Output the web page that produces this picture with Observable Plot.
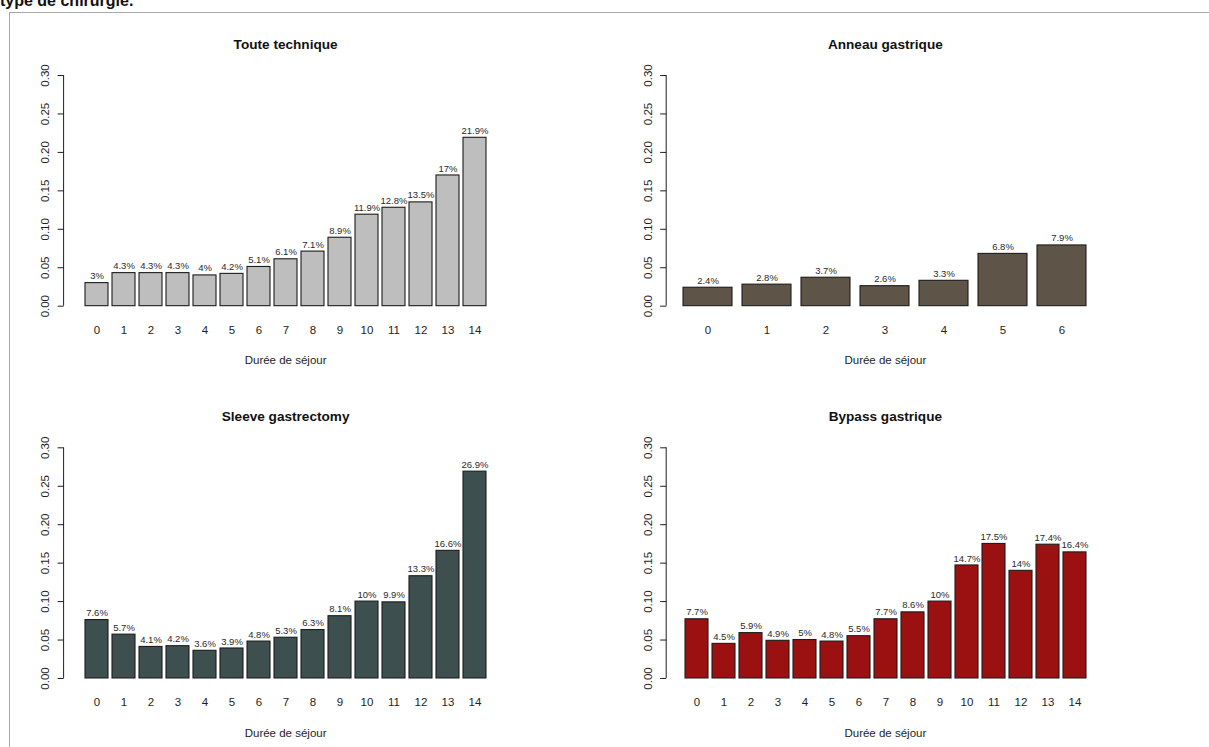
<!DOCTYPE html>
<html>
<head>
<meta charset="utf-8">
<script src="https://cdn.jsdelivr.net/npm/d3@7"></script>
<script src="https://cdn.jsdelivr.net/npm/@observablehq/plot@0.6"></script>
<style>
  html, body { margin: 0; padding: 0; background: #fff; }
  #root { position: relative; width: 1209px; height: 747px; overflow: hidden; background: #fff; }
  .panel { position: absolute; }
  #head { position: absolute; left: 0px; top: -7px; font: bold 16px/16px "Liberation Sans", Arial, sans-serif; color: #111; white-space: nowrap; }
  #frameL { position: absolute; left: 9px; top: 12px; width: 1px; height: 735px; background: #a8a8a8; }
  #frameT { position: absolute; left: 9px; top: 12px; width: 1200px; height: 1px; background: #a8a8a8; }
</style>
</head>
<body>
<div id="root">
  <div id="head">type de chirurgie.</div>
  <div id="frameL"></div>
  <div id="frameT"></div>
</div>
<script>
// ---- Data ----
const days15 = [0, 1, 2, 3, 4, 5, 6, 7, 8, 9, 10, 11, 12, 13, 14];
const days7 = [0, 1, 2, 3, 4, 5, 6];
const touteTechnique = [0.030, 0.043, 0.043, 0.043, 0.040, 0.042, 0.051, 0.061, 0.071, 0.089, 0.119, 0.128, 0.135, 0.170, 0.219];
const anneauGastrique = [0.024, 0.028, 0.037, 0.026, 0.033, 0.068, 0.079];
const sleeveGastrectomy = [0.076, 0.057, 0.041, 0.042, 0.036, 0.039, 0.048, 0.053, 0.063, 0.081, 0.100, 0.099, 0.133, 0.166, 0.269];
const bypassGastrique = [0.077, 0.045, 0.059, 0.049, 0.050, 0.048, 0.055, 0.077, 0.086, 0.100, 0.147, 0.175, 0.140, 0.174, 0.164];
const titles = ["Toute technique", "Anneau gastrique", "Sleeve gastrectomy", "Bypass gastrique"];
const xTitle = "Durée de séjour";
const yTicks = [0, 0.05, 0.10, 0.15, 0.20, 0.25, 0.30];

// ---- Layout / style ----
const FONT = '"Liberation Sans", Arial, Helvetica, sans-serif';
const panels = [
  {title: titles[0], days: days15, values: touteTechnique,    color: "#bebebe", left: 0,   top: 0,   width: 604, height: 372, fx0: 63.6,  fx1: 506.6,  fy0: 65.8,  fy1: 314.9},
  {title: titles[1], days: days7,  values: anneauGastrique,   color: "#5e5447", left: 604, top: 0,   width: 605, height: 372, fx0: 666.2, fx1: 1103.5, fy0: 65.8,  fy1: 314.9},
  {title: titles[2], days: days15, values: sleeveGastrectomy, color: "#3d4f4f", left: 0,   top: 372, width: 604, height: 375, fx0: 63.6,  fx1: 506.6,  fy0: 438.1, fy1: 687.2},
  {title: titles[3], days: days15, values: bypassGastrique,   color: "#9b1111", left: 604, top: 372, width: 605, height: 375, fx0: 666.2, fx1: 1103.5, fy0: 438.1, fy1: 687.2}
];
const pct = v => `${+(v * 100).toFixed(1)}%`;

const root = document.getElementById("root");
for (const p of panels) {
  const rows = p.days.map((d, i) => ({day: d, value: p.values[i]}));
  const n = p.days.length;
  const ml = p.fx0 - p.left, mr = p.left + p.width - p.fx1;
  const mt = p.fy0 - p.top, mb = p.top + p.height - p.fy1;
  const plot = Plot.plot({
    width: p.width,
    height: p.height,
    marginLeft: ml,
    marginRight: mr,
    marginTop: mt,
    marginBottom: mb,
    style: {fontFamily: FONT, fontSize: "11.5px", color: "#1e1e1e", background: "transparent", overflow: "visible"},
    x: {type: "band", domain: p.days, paddingInner: 1 / 6, paddingOuter: 0.04 * (1.2 * n - 0.2) / 1.2, align: 0.5},
    y: {domain: [-0.012, 0.312]},
    marks: [
      Plot.barY(rows, {x: "day", y: "value", fill: p.color, stroke: "#1c1c1c", strokeWidth: 1.1}),
      Plot.text(rows, {x: "day", y: "value", text: d => pct(d.value), dy: -7, fontSize: 9.5, fill: "#2a2a2a"}),
      Plot.axisY({ticks: yTicks, tickFormat: d3.format(".2f"), tickSize: 6, tickPadding: 9, tickRotate: -90, fontSize: 11.5, label: null}),
      Plot.axisX({tickSize: 0, tickPadding: 10, fontSize: 11.5, label: null}),
      Plot.text([p.title], {text: d => d, frameAnchor: "top", lineAnchor: "middle", dy: -21.6, fontWeight: "bold", fontSize: 13.6, fill: "#111"}),
      Plot.text([xTitle], {text: d => d, frameAnchor: "bottom", lineAnchor: "middle", dy: 45.3, fontSize: 11.5, fill: "#1e1e1e"})
    ]
  });
  const ys = plot.scale("y");
  d3.select(plot).append("line")
    .attr("x1", ml).attr("x2", ml)
    .attr("y1", ys.apply(0)).attr("y2", ys.apply(0.3))
    .attr("stroke", "#1e1e1e").attr("stroke-width", 1);
  plot.classList.add("panel");
  plot.style.left = p.left + "px";
  plot.style.top = p.top + "px";
  root.appendChild(plot);
}
</script>
</body>
</html>
